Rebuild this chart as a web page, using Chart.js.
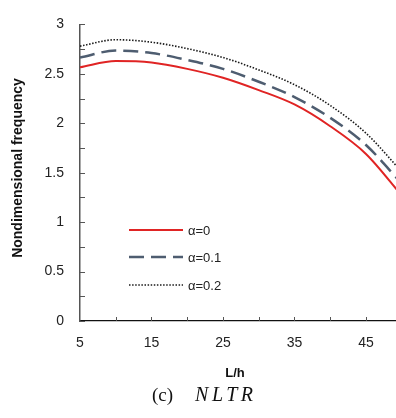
<!DOCTYPE html>
<html>
<head>
<meta charset="utf-8">
<script src="https://cdn.jsdelivr.net/npm/chart.js@4/dist/chart.umd.min.js"></script>
<style>
  body { margin: 0; background: #fff; }
  #wrap { position: relative; width: 396px; height: 418px; }
  #caption {
    position: absolute; top: 383px; left: 152px;
    font-family: "Liberation Serif", serif; font-size: 19px; color: #111;
    white-space: nowrap;
  }
  #caption i { margin-left: 22px; letter-spacing: 3.5px; font-size: 20px; }
</style>
</head>
<body>
<div id="wrap">
  <canvas id="myChart" width="396" height="418"></canvas>
  <div id="caption">(c)<i>NLTR</i></div>
</div>
<script>
// L/h values and frequencies
const lh = [5, 10, 15, 20, 25, 30, 35, 40, 45, 50];
const alpha0 = [2.567, 2.63, 2.615, 2.55, 2.46, 2.335, 2.19, 1.97, 1.69, 1.27];
const alpha01 = [2.665, 2.735, 2.71, 2.64, 2.55, 2.42, 2.265, 2.055, 1.78, 1.39];
const alpha02 = [2.78, 2.845, 2.82, 2.755, 2.665, 2.54, 2.39, 2.18, 1.90, 1.51];
const seriesLabels = ['α=0', 'α=0.1', 'α=0.2'];
const xTickLabels = [5, 15, 25, 35, 45];
const yTickLabels = [0, 0.5, 1, 1.5, 2, 2.5, 3];

const toPts = (ys) => ys.map((y, i) => ({ x: lh[i], y: y }));

const ctx = document.getElementById('myChart').getContext('2d');

// inward ticks, axis titles and the legend inside the plot
const extras = {
    id: 'extras',
    afterDraw(chart) {
        const c = chart.ctx;
        const xs = chart.scales.x, ys = chart.scales.y;
        const area = chart.chartArea;
        c.save();
        c.strokeStyle = '#555';
        c.lineWidth = 1;
        for (let v = 0; v <= 3.001; v += 0.25) {
            const py = Math.round(ys.getPixelForValue(v)) + 0.5;
            c.beginPath();
            c.moveTo(area.left, py);
            c.lineTo(area.left + 5, py);
            c.stroke();
        }
        for (let v = 10; v <= 45; v += 5) {
            const px = Math.round(xs.getPixelForValue(v)) + 0.5;
            c.beginPath();
            c.moveTo(px, area.bottom);
            c.lineTo(px, area.bottom - 4);
            c.stroke();
        }

        // axis titles
        c.fillStyle = '#111';
        c.font = 'bold 13px "Liberation Sans", Arial, sans-serif';
        c.textAlign = 'center';
        c.textBaseline = 'middle';
        c.fillText('L/h', 235, 373);
        c.save();
        c.translate(18, 168);
        c.rotate(-Math.PI / 2);
        c.font = 'bold 14px "Liberation Sans", Arial, sans-serif';
        c.fillText('Nondimensional frequency', 0, 0);
        c.restore();

        // legend
        const rows = [230, 257, 285];
        chart.data.datasets.forEach((ds, i) => {
            c.save();
            c.strokeStyle = ds.borderColor;
            c.lineWidth = ds.borderWidth;
            c.setLineDash(ds.borderDash || []);
            c.beginPath();
            c.moveTo(129, rows[i]);
            c.lineTo(183, rows[i]);
            c.stroke();
            c.restore();
            c.fillStyle = '#222';
            c.font = '13px "Liberation Sans", Arial, sans-serif';
            c.textAlign = 'left';
            c.fillText(ds.label, 188, rows[i] + 1);
        });
        c.restore();
    }
};

const myChart = new Chart(ctx, {
    type: 'line',
    data: {
        datasets: [
            {
                label: seriesLabels[0],
                data: toPts(alpha0),
                borderColor: '#e02424',
                borderWidth: 2,
                pointRadius: 0,
                cubicInterpolationMode: 'monotone',
                clip: 0
            },
            {
                label: seriesLabels[1],
                data: toPts(alpha01),
                borderColor: '#4e5d70',
                borderWidth: 2.5,
                borderDash: [15, 7],
                pointRadius: 0,
                cubicInterpolationMode: 'monotone',
                clip: 0
            },
            {
                label: seriesLabels[2],
                data: toPts(alpha02),
                borderColor: '#1a1a1a',
                borderWidth: 1.6,
                borderDash: [1.5, 1.6],
                pointRadius: 0,
                cubicInterpolationMode: 'monotone',
                clip: 0
            }
        ]
    },
    options: {
        responsive: false,
        animation: false,
        events: [],
        layout: { padding: { top: 14, right: 0, left: 0, bottom: 0 } },
        plugins: { legend: { display: false }, tooltip: { enabled: false } },
        scales: {
            x: {
                type: 'linear',
                min: 5,
                max: 49.2,
                afterBuildTicks: (scale) => { scale.ticks = xTickLabels.map(v => ({ value: v })); },
                afterFit: (scale) => { scale.height = 97; },
                grid: { display: false, drawTicks: false },
                border: { display: true, color: '#111', width: 1.2 },
                ticks: {
                    padding: 14,
                    color: '#222',
                    font: { family: '"Liberation Sans", Arial, sans-serif', size: 14 },
                    callback: (v) => String(v)
                }
            },
            y: {
                min: 0,
                max: 3,
                afterBuildTicks: (scale) => { scale.ticks = yTickLabels.map(v => ({ value: v })); },
                afterFit: (scale) => { scale.width = 80; },
                grid: { display: false, drawTicks: false },
                border: { display: true, color: '#555', width: 1.5 },
                ticks: {
                    padding: 16,
                    color: '#222',
                    font: { family: '"Liberation Sans", Arial, sans-serif', size: 14 },
                    callback: (v) => String(v)
                }
            }
        }
    },
    plugins: [extras]
});
</script>
</body>
</html>
